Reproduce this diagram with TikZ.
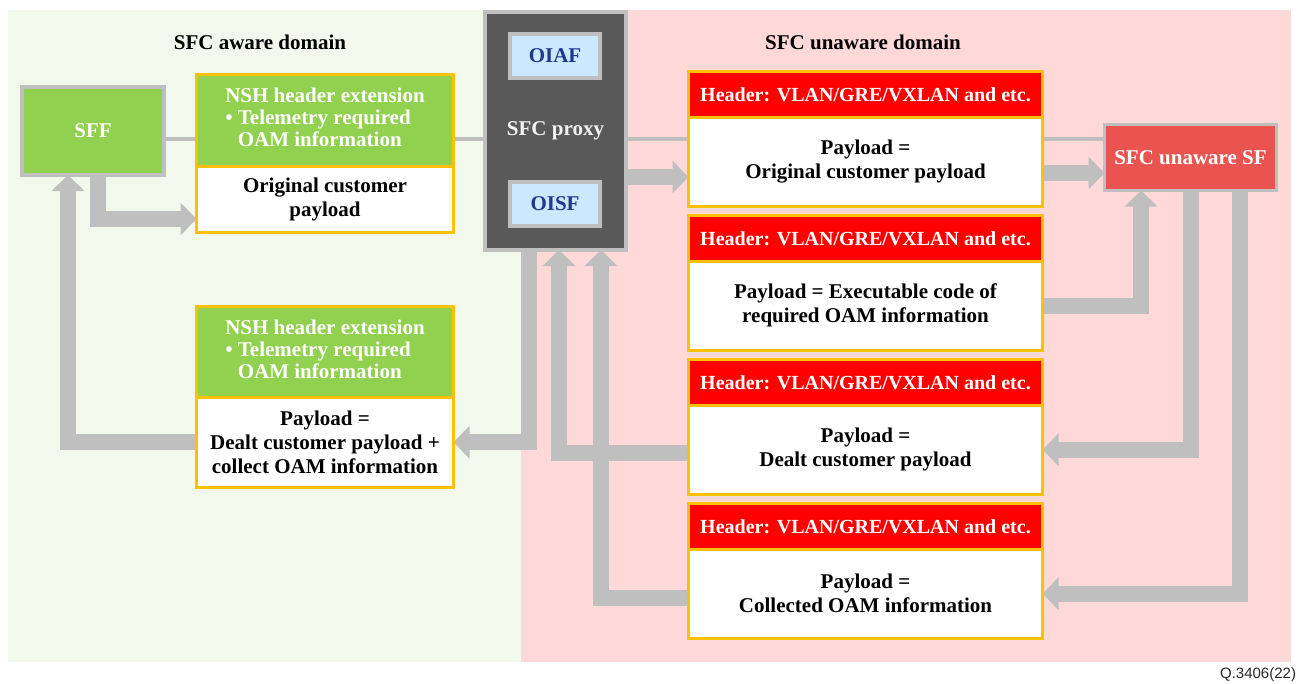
\documentclass[tikz,border=0pt]{standalone}
\usepackage{fontspec}
\setmainfont{Liberation Serif}
\newfontfamily\labelsans{Liberation Sans}
\usetikzlibrary{arrows.meta}

\definecolor{awarebg}{RGB}{242,248,236}
\definecolor{unawarebg}{RGB}{255,216,216}
\definecolor{nshgreen}{RGB}{146,208,80}
\definecolor{frameorange}{RGB}{255,192,0}
\definecolor{hdrred}{RGB}{255,0,0}
\definecolor{pipegray}{RGB}{191,191,191}
\definecolor{proxygray}{RGB}{89,89,89}
\definecolor{oiblue}{RGB}{204,232,255}
\definecolor{oinavy}{RGB}{31,56,140}
\definecolor{sfred}{RGB}{234,84,80}
\definecolor{figlabel}{RGB}{40,40,40}

\pgfdeclarelayer{bg}
\pgfsetlayers{bg,main}

\begin{document}
\begin{tikzpicture}[x=1pt,y=-1pt,
  every node/.style={inner sep=0pt, outer sep=0pt, align=center,
    font=\bfseries\fontsize{21}{24}\selectfont},
  graybox/.style={draw=pipegray, line width=4pt},
  sffbox/.style={graybox, fill=nshgreen, text=white,
    minimum width=142pt, minimum height=88pt},
  proxybox/.style={graybox, fill=proxygray, text=white!95!black,
    minimum width=141pt, minimum height=238pt},
  oibox/.style={graybox, fill=oiblue, text=oinavy,
    minimum width=90pt, minimum height=44pt},
  sfbox/.style={draw=pipegray, line width=3pt, fill=sfred, text=white,
    minimum width=172pt, minimum height=66pt},
  nshpart/.style={draw=frameorange, line width=3pt, fill=nshgreen, text=white,
    minimum width=257pt, font=\bfseries\fontsize{21}{23}\selectfont},
  bodypart/.style={draw=frameorange, line width=3pt, fill=white, text=black},
  hdrpart/.style={draw=frameorange, line width=3pt, fill=hdrred, text=white,
    minimum width=354pt, minimum height=45.5pt,
    font=\bfseries\fontsize{20}{24}\selectfont},
  wbody/.style={bodypart, minimum width=354pt, minimum height=89.5pt},
  domaintitle/.style={text=black},
  link/.style={draw=pipegray, line width=4.5pt},
  fat/.style={draw=pipegray, line width=16pt,
    -{Triangle[width=32pt,length=16pt]}}
]
\useasboundingbox (0,0) rectangle (1298,683);

% domain titles
\node[domaintitle] (awaretitle) at (260,42) {SFC aware domain};
\node[domaintitle] (unawaretitle) at (863,42) {SFC unaware domain};

% SFC aware side
\node[sffbox] (sff) at (93,131) {SFF};

\node[nshpart, minimum height=91.5pt] (nsh1) at (325,120.25)
  {\begin{tabular}{@{}l@{}}NSH header extension\\[-1pt]
   \textbullet{} Telemetry required\\[-1pt]
   \hphantom{\textbullet{} }OAM information\end{tabular}};
\node[bodypart, minimum width=257pt, minimum height=66.5pt] (nsh1b) at (325,199.25)
  {Original customer\\payload};

\node[nshpart, minimum height=90.5pt] (nsh2) at (325,351.75)
  {\begin{tabular}{@{}l@{}}NSH header extension\\[-1pt]
   \textbullet{} Telemetry required\\[-1pt]
   \hphantom{\textbullet{} }OAM information\end{tabular}};
\node[bodypart, minimum width=257pt, minimum height=90.5pt] (nsh2b) at (325,442.25)
  {Payload =\\Dealt customer payload +\\collect OAM information};

% SFC proxy
\node[proxybox] (proxy) at (555.5,131) {SFC proxy};
\node[oibox] (oiaf) at (555,56) {OIAF};
\node[oibox] (oisf) at (555,204) {OISF};

% SFC unaware side
\node[hdrpart] (b1h) at (865.5,94.25) {Header: VLAN/GRE/VXLAN and etc.};
\node[wbody] (b1b) at (865.5,161.75) {Payload =\\Original customer payload};
\node[hdrpart] (b2h) at (865.5,238.25) {Header: VLAN/GRE/VXLAN and etc.};
\node[wbody] (b2b) at (865.5,305.75) {Payload = Executable code of\\required OAM information};
\node[hdrpart] (b3h) at (865.5,382.25) {Header: VLAN/GRE/VXLAN and etc.};
\node[wbody] (b3b) at (865.5,449.75) {Payload =\\Dealt customer payload};
\node[hdrpart] (b4h) at (865.5,526.25) {Header: VLAN/GRE/VXLAN and etc.};
\node[wbody] (b4b) at (865.5,593.75) {Payload =\\Collected OAM information};

\node[sfbox] (sf) at (1190.5,157.5) {SFC unaware SF};

% figure number
\node[font=\labelsans\fontsize{15}{18}\selectfont, text=figlabel, anchor=east]
  (fignum) at (1296,675) {Q.3406(22)};

\begin{pgfonlayer}{bg}
  % domain backgrounds
  \fill[awarebg] (8,10) rectangle (521,662);
  \fill[unawarebg] (521,10) rectangle (1291,662);

  % thin chain of links
  \coordinate (lvl) at (0,139);
  \draw[link] (sff.east |- lvl) -- (nsh1.west |- lvl);
  \draw[link] (nsh1.east |- lvl) -- (proxy.west |- lvl);
  \draw[link] (proxy.east |- lvl) -- (b1h.west |- lvl);
  \draw[link] (b1b.east |- lvl) -- (sf.west |- lvl);

  % packet flows
  \draw[fat] ([xshift=5pt]sff.south) |- ([yshift=-19.75pt]nsh1b.west);
  \draw[fat] (nsh2b.west) -| ([xshift=-25pt]sff.south);
  \draw[fat] ([xshift=-26.5pt]proxy.south) |- (nsh2b.east);
  \draw[fat] ([yshift=-3.25pt]b3b.west) -| ([xshift=3.5pt]proxy.south);
  \draw[fat] ([yshift=-4.25pt]b4b.west) -| ([xshift=45.5pt]proxy.south);

  \coordinate (toB1) at ([yshift=-15.25pt]b1b.west);
  \draw[fat] (toB1 -| proxy.east) -- (toB1);
  \coordinate (toSF) at ([yshift=-11.25pt]b1b.east);
  \draw[fat] (toSF) -- (toSF -| sf.west);
  \draw[fat] (b2b.east) -| ([xshift=-49.5pt]sf.south);
  \draw[fat] (sf.south) |- (b3b.east);
  \draw[fat] ([xshift=49.5pt]sf.south) |- (b4b.east);
\end{pgfonlayer}
\end{tikzpicture}
\end{document}
